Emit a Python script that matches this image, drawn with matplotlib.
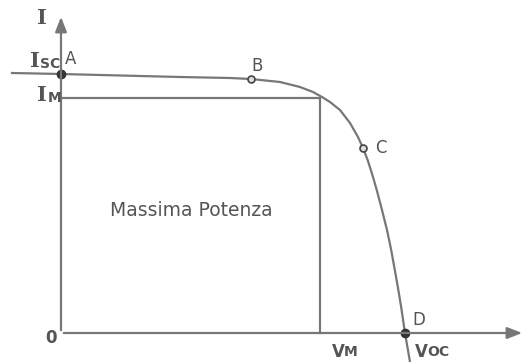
import numpy as np
import matplotlib.pyplot as plt

# curva I-V (unita' arbitrarie)
v_curve = [-49, 0, 119, 169, 190, 219, 239, 252, 261, 269, 279, 289, 297, 302,
           307, 312, 316, 321, 326, 330, 334, 337, 340, 344, 349]
i_curve = [260, 259, 256, 255, 254, 251, 246, 241, 236, 231, 223, 210, 196, 185,
           172, 156, 142, 123, 103, 84, 62, 45, 27, 0, -29]

isc = 259
im = 235
vm = 259
voc = 344
pts_name = ['A', 'B', 'C', 'D']
pts_v = [0, 190, 302, 344]
pts_i = [259, 254, 185, 0]

grey = '#777777'
txt = '#555555'

fig = plt.figure(figsize=(5.28, 3.62), dpi=100)
ax = fig.add_axes([0, 0, 1, 1])
ax.set_xlim(-61, 467)
ax.set_ylim(-29, 333)
ax.axis('off')

# assi con frecce
ax.annotate('', xy=(464, 0), xytext=(0, 0),
            arrowprops=dict(arrowstyle='-|>,head_length=0.9,head_width=0.35', color=grey, lw=1.6))
ax.annotate('', xy=(0, 319), xytext=(0, 0),
            arrowprops=dict(arrowstyle='-|>,head_length=0.9,head_width=0.35', color=grey, lw=1.6))

# rettangolo di massima potenza
ax.plot([0, vm], [im, im], color=grey, lw=1.6)
ax.plot([vm, vm], [0, im], color=grey, lw=1.6)

# curva
ax.plot(v_curve, i_curve, color=grey, lw=1.6, solid_joinstyle='round')

# punti
ax.plot([pts_v[0], pts_v[3]], [pts_i[0], pts_i[3]], 'o', color='#333333', ms=6)
ax.plot([pts_v[1], pts_v[2]], [pts_i[1], pts_i[2]], 'o', mfc='#dddddd', mec='#444444', ms=5, mew=1.2)

lbl = dict(color=txt, fontsize=12, family='DejaVu Sans')
ax.text(4, 265, pts_name[0], ha='left', va='bottom', **lbl)
ax.text(190, 258, pts_name[1], ha='left', va='bottom', **lbl)
ax.text(314, 185, pts_name[2], ha='left', va='center', **lbl)
ax.text(351, 4, pts_name[3], ha='left', va='bottom', **lbl)

big = dict(color=txt, fontsize=15, family='DejaVu Serif', fontweight='bold')
small = dict(color=txt, fontsize=10, family='DejaVu Sans', fontweight='bold')
ax.text(-24, 305, 'I', ha='left', va='bottom', **big)
ax.text(-31, 262, 'I', ha='left', va='bottom', **big)
ax.text(-21, 262, 'SC', ha='left', va='bottom', **small)
ax.text(-24, 228, 'I', ha='left', va='bottom', **big)
ax.text(-13, 228, 'M', ha='left', va='bottom', **small)
ax.text(-4, -5, '0', ha='right', va='center', color=txt, fontsize=12, fontweight='bold')
ax.text(vm + 12, -10, 'V', ha='left', va='top', **dict(small, fontsize=12))
ax.text(vm + 24, -12, 'M', ha='left', va='top', **small)
ax.text(voc + 10, -10, 'V', ha='left', va='top', **dict(small, fontsize=12))
ax.text(voc + 22, -12, 'OC', ha='left', va='top', **small)

ax.text(130, 123, 'Massima Potenza', ha='center', va='center', color=txt, fontsize=13.5)

fig.savefig('out.png', dpi=100)
